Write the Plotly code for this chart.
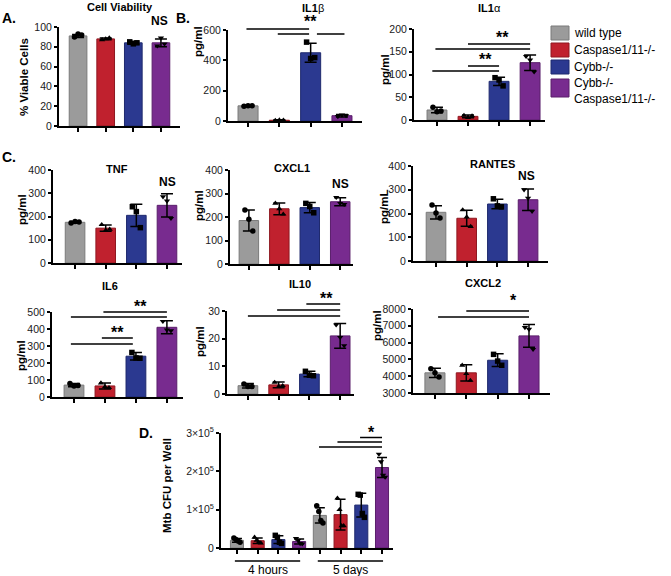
import plotly.graph_objects as go

W, H = 671, 576

# ---------------- data ----------------
genotypes = ["wild type", "Caspase1/11-/-", "Cybb-/-", "Cybb-/- Caspase1/11-/-"]
legend_labels = ["wild type", "Caspase1/11-/-", "Cybb-/-", "Cybb-/-<br>Caspase1/11-/-"]

viab_mean = [91, 88, 84, 84]
viab_sd = [1.5, 1.0, 1.5, 4.0]
viab_pts = [[90, 93, 92], [87, 88, 89], [85, 83, 84], [81, 89, 83]]

il1b_mean = [100, 5, 450, 35]
il1b_sd = [3, 3, 62, 8]
il1b_pts = [[98, 101, 101], [4, 6, 5], [520, 412, 418], [30, 40, 36]]

il1a_mean = [22, 8, 85, 126]
il1a_sd = [6, 3, 9, 17]
il1a_pts = [[28, 18, 20], [10, 5, 9], [93, 88, 75], [140, 132, 106]]

tnf_mean = [175, 150, 205, 248]
tnf_sd = [3, 13, 48, 50]
tnf_pts = [[172, 178, 176], [165, 140, 145], [242, 221, 152], [285, 267, 192]]

cxcl1_mean = [185, 235, 240, 265]
cxcl1_sd = [45, 25, 22, 17]
cxcl1_pts = [[230, 190, 140], [258, 235, 212], [258, 245, 218], [284, 258, 254]]

rantes_mean = [205, 180, 240, 258]
rantes_sd = [28, 34, 20, 45]
rantes_pts = [[236, 202, 181], [215, 185, 145], [262, 232, 228], [300, 265, 210]]

il6_mean = [70, 65, 240, 410]
il6_sd = [10, 18, 22, 38]
il6_pts = [[80, 65, 68], [82, 60, 55], [262, 230, 228], [445, 395, 390]]

il10_mean = [3.0, 3.3, 7.2, 21.0]
il10_sd = [0.8, 1.0, 1.0, 4.5]
il10_pts = [[3.6, 2.7, 2.7], [4.2, 2.7, 3.0], [8.2, 6.8, 6.6], [25.0, 20.5, 17.5]]

cxcl2_mean = [4200, 4200, 4950, 6400]
cxcl2_sd = [280, 480, 380, 680]
cxcl2_pts = [[4450, 4200, 3950], [4650, 4150, 3750], [5300, 4900, 4650], [6900, 6800, 5600]]

time_labels = ["4 hours", "5 days"]
cfu_mean = [20000, 19000, 22000, 17000, 85000, 87000, 112000, 210000]
cfu_sd = [5000, 7000, 10000, 6500, 20000, 40000, 31000, 26000]
cfu_pts = [[26000, 22000, 18000, 15000], [28000, 20000, 15000, 13000],
           [33000, 28000, 15000, 12000], [25000, 20000, 12000, 11000],
           [110000, 95000, 72000, 65000], [130000, 100000, 58000, 58000],
           [140000, 138000, 90000, 80000], [245000, 225000, 190000, 185000]]

# ---------------- style ----------------
colors = ["#9b9b9b", "#c0212e", "#2b3990", "#782b8f"]
edges = ["#7a7a7a", "#8f1821", "#1f2a6e", "#5a1f6b"]
symbols = ["circle", "triangle-up", "square", "triangle-down"]
FONT = "Liberation Sans, Arial, sans-serif"


def fx(p):
    return p / W


def fy(p):
    return 1 - p / H


panels = [
    dict(mean=viab_mean, sd=viab_sd, pts=viab_pts, g=(59, 180, 126, 27), yr=(0, 100), xr=(-0.69, 3.69), step=20),
    dict(mean=il1b_mean, sd=il1b_sd, pts=il1b_pts, g=(228, 362, 121, 30), yr=(0, 600), xr=(-0.64, 3.64), step=200),
    dict(mean=il1a_mean, sd=il1a_sd, pts=il1a_pts, g=(414, 545, 120, 29), yr=(0, 200), xr=(-0.74, 3.48), step=50),
    dict(mean=tnf_mean, sd=tnf_sd, pts=tnf_pts, g=(53, 182, 263, 170), yr=(0, 400), xr=(-0.72, 3.49), step=100),
    dict(mean=cxcl1_mean, sd=cxcl1_sd, pts=cxcl1_pts, g=(230, 353, 264, 170), yr=(0, 400), xr=(-0.62, 3.42), step=100),
    dict(mean=rantes_mean, sd=rantes_sd, pts=rantes_pts, g=(413, 548, 261, 166), yr=(0, 400), xr=(-0.75, 3.65), step=100),
    dict(mean=il6_mean, sd=il6_sd, pts=il6_pts, g=(52, 183, 397, 312), yr=(0, 500), xr=(-0.71, 3.52), step=100),
    dict(mean=il10_mean, sd=il10_sd, pts=il10_pts, g=(227, 354, 394, 311), yr=(0, 30), xr=(-0.68, 3.45), step=10),
    dict(mean=cxcl2_mean, sd=cxcl2_sd, pts=cxcl2_pts, g=(413, 550, 393, 309), yr=(3000, 8000), xr=(-0.7, 3.67), step=1000),
    dict(mean=cfu_mean, sd=cfu_sd, pts=cfu_pts, g=(221, 393, 548, 433), yr=(0, 300000), xr=(-0.77, 7.53), step=100000),
]

fig = go.Figure()
layout = dict(width=W, height=H, margin=dict(l=0, r=0, t=0, b=0, autoexpand=False),
              paper_bgcolor="white", plot_bgcolor="white", showlegend=False,
              font=dict(family=FONT, size=11, color="#1a1a1a"))

for i, p in enumerate(panels):
    n = i + 1
    xid = "x" if n == 1 else f"x{n}"
    yid = "y" if n == 1 else f"y{n}"
    xl, xr_, yb, yt = p["g"]
    nb = len(p["mean"])
    xs = list(range(nb))
    cols = [colors[k % 4] for k in xs]
    eds = [edges[k % 4] for k in xs]
    fig.add_trace(go.Bar(
        x=xs, y=p["mean"], width=0.64 if nb == 4 else 0.63,
        marker=dict(color=cols, line=dict(color=eds, width=1)),
        error_y=dict(type="data", array=p["sd"], visible=True, color="black", thickness=1.5, width=6 if nb == 4 else 5),
        xaxis=xid, yaxis=yid, hoverinfo="skip"))
    for k in xs:
        vals = p["pts"][k]
        m = len(vals)
        offs = [-0.13, 0.0, 0.13] if m == 3 else [-0.15, -0.05, 0.05, 0.15]
        fig.add_trace(go.Scatter(
            x=[k + o for o in offs], y=vals, mode="markers",
            marker=dict(color="black", size=5.5, symbol=symbols[k % 4]),
            xaxis=xid, yaxis=yid, hoverinfo="skip", cliponaxis=False))
    y0, y1 = p["yr"]
    ticks = []
    v = y0
    while v <= y1 + 1e-9:
        ticks.append(v)
        v += p["step"]
    if n == 10:
        ticktext = ["0", "1×10<sup>5</sup>", "2×10<sup>5</sup>", "3×10<sup>5</sup>"]
    else:
        ticktext = [str(int(t)) for t in ticks]
    tsize = 10.5
    layout["xaxis" if n == 1 else f"xaxis{n}"] = dict(
        domain=[fx(xl), fx(xr_)], range=list(p["xr"]), anchor=yid,
        showline=True, linecolor="black", linewidth=2, ticks="outside",
        tickvals=xs, showticklabels=False, ticklen=4, tickwidth=1.5, tickcolor="black",
        showgrid=False, zeroline=False, fixedrange=True, automargin=False)
    layout["yaxis" if n == 1 else f"yaxis{n}"] = dict(
        domain=[fy(yb), fy(yt)], range=[y0, y1], anchor=xid,
        showline=True, linecolor="black", linewidth=2, ticks="outside",
        tickvals=ticks, ticktext=ticktext, ticklen=3, tickwidth=1.5, tickcolor="black",
        tickfont=dict(size=tsize, family=FONT, color="#1a1a1a"),
        showgrid=False, zeroline=False, fixedrange=True, automargin=False)

annotations = []
shapes = []


def text(s, x, y, size=11, bold=True, xref="paper", angle=0, xanchor="center"):
    annotations.append(dict(
        text=(f"<b>{s}</b>" if bold else s), x=x if xref != "paper" else fx(x), y=fy(y),
        xref=xref, yref="paper", showarrow=False, xanchor=xanchor, yanchor="middle",
        textangle=angle, font=dict(family=FONT, size=size, color="black")))


def sig(xa, x0, x1, y):
    shapes.append(dict(type="line", xref=xa, yref="paper", x0=x0, x1=x1,
                       y0=fy(y), y1=fy(y), line=dict(color="black", width=1.5)))


# panel letters
text("A.", 9, 18, size=14)
text("B.", 183, 18, size=14)
text("C.", 9, 157, size=14)
text("D.", 146, 433, size=14)

# titles
text("Cell Viability", 120, 7)
text("IL1</b>β<b>", 313, 8)
text("IL1</b>α<b>", 489, 8)
text("TNF", 117, 169)
text("CXCL1", 292, 168)
text("RANTES", 492, 164)
text("IL6", 110, 286)
text("IL10", 300, 284)
text("CXCL2", 483, 283)

# NS labels
text("NS", 159, 21, size=12)
text("NS", 167, 182, size=12)
text("NS", 340, 184, size=12)
text("NS", 526, 176, size=12)

# y labels
text("% Viable Cells", 24, 77, size=11.5, angle=-90)
text("pg/ml", 198, 42, size=11.5, angle=-90)
text("pg/ml", 385, 70, size=11.5, angle=-90)
text("pg/ml", 22, 210, size=11.5, angle=-90)
text("pg/ml", 199, 206, size=11.5, angle=-90)
text("pg/mL", 384, 207, size=11.5, angle=-90)
text("pg/ml", 21, 356, size=11.5, angle=-90)
text("pg/ml", 200, 342, size=11.5, angle=-90)
text("pg/ml", 377, 326, size=11.5, angle=-90)
text("Mtb CFU per Well", 167, 486, size=11.5, angle=-90)

# significance: IL1b
sig("x2", -0.05, 1.95, 29)
sig("x2", 0.95, 1.95, 34)
sig("x2", 2.2, 3.08, 34)
text("**", 2.0, 21, size=16, xref="x2")
# IL1a
sig("x3", 1.0, 3.0, 44)
sig("x3", -0.05, 3.0, 49)
text("**", 2.1, 38, size=16, xref="x3")
sig("x3", 1.0, 2.0, 66)
sig("x3", -0.15, 2.0, 71)
text("**", 1.55, 60, size=16, xref="x3")
# IL6
sig("x7", 0.95, 3.0, 312)
sig("x7", -0.1, 3.0, 317)
text("**", 2.15, 306, size=16, xref="x7")
sig("x7", 0.9, 1.9, 338)
sig("x7", -0.1, 1.9, 344)
text("**", 1.4, 332, size=16, xref="x7")
# IL10
sig("x8", 1.9, 3.0, 304)
sig("x8", 0.95, 3.0, 310)
sig("x8", 0.0, 3.0, 316)
text("**", 2.55, 298, size=16, xref="x8")
# CXCL2
sig("x9", 1.0, 3.0, 311)
sig("x9", 0.1, 3.0, 317)
text("*", 2.5, 300, size=16, xref="x9")
# CFU
sig("x10", 5.94, 7.0, 437.5)
sig("x10", 4.85, 7.0, 442)
sig("x10", 3.96, 7.0, 447)
text("*", 6.5, 432, size=16, xref="x10")

# time group labels
sig("x10", -0.1, 3.05, 561)
sig("x10", 3.9, 7.05, 561)
text(time_labels[0], 1.5, 570, size=12, bold=False, xref="x10")
text(time_labels[1], 5.5, 570, size=12, bold=False, xref="x10")

# legend
leg_rows = [(26, 40, 33), (43, 57, 50), (60, 74, 67), (79, 97, 91)]
for k, (t, b, ty) in enumerate(leg_rows):
    shapes.append(dict(type="rect", xref="paper", yref="paper", x0=fx(551), x1=fx(569),
                       y0=fy(b), y1=fy(t), fillcolor=colors[k], line=dict(color=edges[k], width=1)))
    annotations.append(dict(text=legend_labels[k], x=fx(572), y=fy(ty), xref="paper", yref="paper",
                            showarrow=False, xanchor="left", yanchor="middle", align="left",
                            font=dict(family=FONT, size=12, color="black")))

layout["annotations"] = annotations
layout["shapes"] = shapes
fig.update_layout(**layout)
fig.write_html("out.html", config={"responsive": False, "displayModeBar": False},
               post_script="document.body.style.margin='0px';document.body.style.padding='0px';")
